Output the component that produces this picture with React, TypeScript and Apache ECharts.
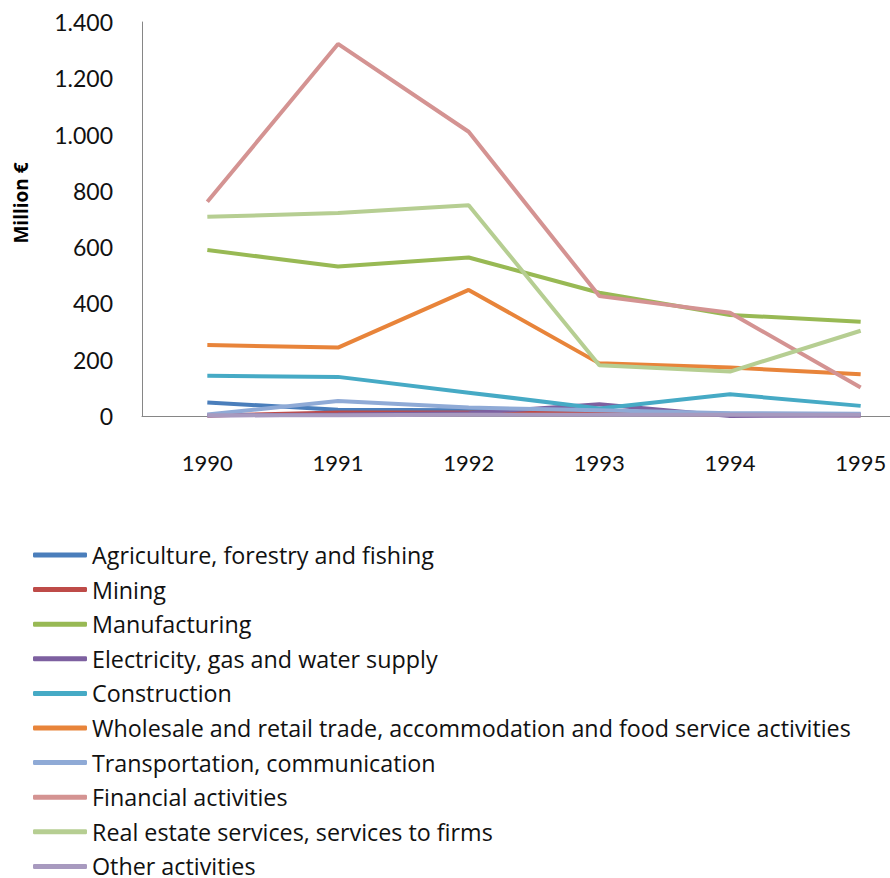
import React, { useEffect, useRef } from "react";
import * as echarts from "echarts";

const years = ["1990", "1991", "1992", "1993", "1994", "1995"];
const seriesNames = [
  "Agriculture, forestry and fishing",
  "Mining",
  "Manufacturing",
  "Electricity, gas and water supply",
  "Construction",
  "Wholesale and retail trade, accommodation and food service activities",
  "Transportation, communication",
  "Financial activities",
  "Real estate services, services to firms",
  "Other activities",
];
const agriculture = [48, 22, 20, 15, 8, 5];
const mining = [2, 12, 12, 10, 5, 3];
const manufacturing = [590, 531, 563, 438, 359, 335];
const electricity = [2, 5, 10, 42, 0, 2];
const construction = [143, 139, 83, 27, 77, 36];
const wholesale = [252, 243, 448, 187, 172, 148];
const transportation = [5, 53, 30, 20, 10, 8];
const financial = [761, 1322, 1010, 426, 367, 101];
const realEstate = [708, 721, 749, 180, 158, 303];
const other = [3, 3, 4, 4, 4, 4];
const colors = [
  "#4A7EBB", "#BE4B48", "#98B954", "#7D60A0", "#46AAC5",
  "#E8843A", "#8FAAD6", "#D49392", "#B6CE92", "#A89ABF",
];
const yTicks = [0, 200, 400, 600, 800, 1000, 1200, 1400];
const yTitle = "Million €";

export default function App() {
  const ref = useRef<HTMLDivElement>(null);
  useEffect(() => {
    document.body.style.margin = "0";
    const chart = echarts.init(ref.current!, null, { renderer: "svg" });
    const data = [agriculture, mining, manufacturing, electricity, construction, wholesale, transportation, financial, realEstate, other];
    const font = "Lato";
    chart.setOption({
      animation: false,
      color: colors,
      grid: { left: 142, top: 22, width: 784, height: 394, containLabel: false },
      xAxis: {
        type: "category",
        data: years,
        boundaryGap: true,
        axisLine: { lineStyle: { color: "#868686", width: 1 } },
        axisTick: { show: false },
        axisLabel: { color: "#111", fontSize: 22, fontFamily: font, margin: 35 },
      },
      yAxis: {
        type: "value",
        min: yTicks[0],
        max: yTicks[yTicks.length - 1],
        interval: 200,
        axisLine: { show: true, lineStyle: { color: "#868686", width: 1 } },
        axisTick: { show: false },
        splitLine: { show: false },
        axisLabel: {
          color: "#111",
          fontSize: 23,
          fontFamily: font,
          margin: 29,
          formatter: (v: number) => v.toString().replace(/\B(?=(\d{3})+(?!\d))/g, "."),
        },
      },
      graphic: [
        {
          type: "text",
          x: 21,
          y: 203,
          rotation: Math.PI / 2,
          style: {
            text: yTitle,
            fontSize: 19,
            fontWeight: "bold",
            fontFamily: "Open Sans",
            fill: "#000",
            align: "center",
            verticalAlign: "middle",
          },
        },
      ],
      legend: {
        orient: "vertical",
        left: 28,
        top: 538,
        height: 420,
        itemWidth: 54,
        itemHeight: 5,
        itemGap: 10.6,
        icon: "roundRect",
        textStyle: { fontSize: 23.3, lineHeight: 24, fontFamily: "Open Sans", color: "#111" },
        data: seriesNames,
      },
      series: seriesNames.map((n, i) => ({
        name: n,
        type: "line",
        data: data[i],
        symbol: "none",
        lineStyle: { width: 4, color: colors[i] },
        itemStyle: { color: colors[i] },
      })),
    });
    return () => chart.dispose();
  }, []);
  return (
    <div style={{ width: 890, height: 878, overflow: "hidden" }}>
      <div ref={ref} style={{ width: 940, height: 920 }} />
    </div>
  );
}
